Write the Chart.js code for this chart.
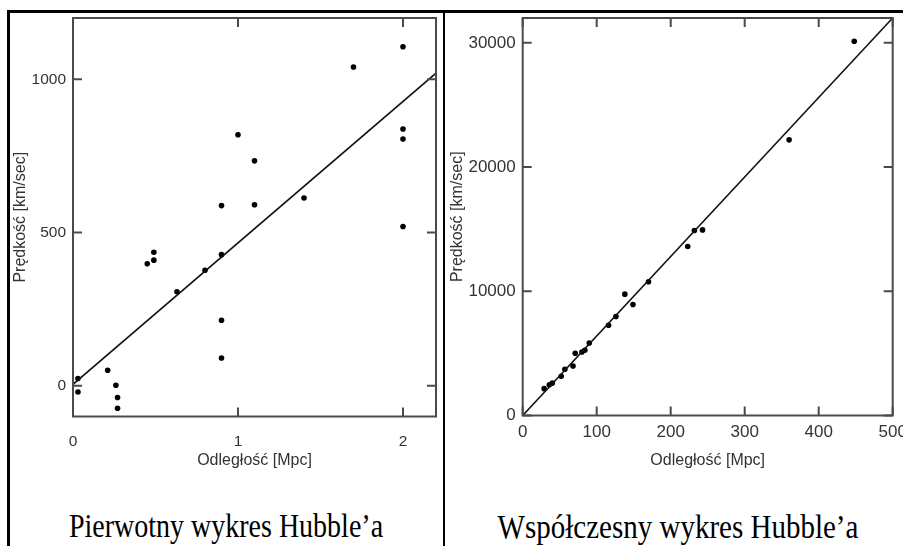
<!DOCTYPE html>
<html><head><meta charset="utf-8">
<script src="https://cdn.jsdelivr.net/npm/chart.js@4"></script>
<style>
html,body{margin:0;padding:0;background:#fff;overflow:hidden;width:903px;height:546px;}
.box{position:absolute;}
.rule{position:absolute;background:#000;}
.cap{position:absolute;top:514px;font-family:"Liberation Serif","Times New Roman",serif;font-size:28px;line-height:28px;color:#000;white-space:nowrap;transform:translateX(-50%) scaleY(1.18);transform-origin:50% 23.5px;}
</style>
</head><body>
<div class="rule" style="left:8px;top:10px;width:895px;height:3px"></div>
<div class="rule" style="left:7px;top:10px;width:3px;height:536px"></div>
<div class="rule" style="left:443px;top:10px;width:2px;height:536px"></div>
<div class="box" style="left:0;top:0;width:443px;height:480px"><canvas id="c1"></canvas></div>
<div class="box" style="left:444px;top:0;width:476px;height:480px"><canvas id="c2"></canvas></div>
<div class="cap" style="left:226px">Pierwotny wykres Hubble’a</div>
<div class="cap" style="left:678px;font-size:29px">Współczesny wykres Hubble’a</div>
<script>
// Original Hubble (1929) diagram
const origDist = [0.03, 0.03, 0.21, 0.26, 0.27, 0.27, 0.45, 0.49, 0.49, 0.63, 0.80, 0.90, 0.90, 0.90, 0.90, 1.00, 1.10, 1.10, 1.40, 1.70, 2.00, 2.00, 2.00, 2.00];
const origVel  = [24, -20, 51, 2, -38, -73, 398, 436, 410, 307, 377, 588, 428, 214, 91, 819, 734, 591, 613, 1040, 1106, 838, 805, 520];
const origFitDist = [0, 2.2];
const origFitVel  = [5, 1020];
const origXTicks = [0, 1, 2];
const origYTicks = [0, 500, 1000];

// Modern Hubble diagram
const modDist = [29, 36, 40, 52, 57, 68, 71, 80, 84, 90, 116, 126, 138, 149, 170, 223, 232, 243, 360, 448];
const modVel  = [2160, 2480, 2610, 3150, 3720, 3990, 5010, 5110, 5250, 5840, 7270, 7970, 9770, 8940, 10770, 13600, 14890, 14940, 22190, 30130];
const modFitDist = [0, 500];
const modFitVel  = [0, 32000];
const modXTicks = [0, 100, 200, 300, 400, 500];
const modYTicks = [0, 10000, 20000, 30000];

const xTitle = 'Odległość [Mpc]';
const yTitle = 'Prędkość [km/sec]';

const frameTicks = {
  id: 'frameTicks',
  afterDatasetsDraw(chart, args, opts) {
    const {ctx, chartArea: a, scales: {x, y}} = chart;
    ctx.save();
    ctx.strokeStyle = '#4a4a4a';
    ctx.lineWidth = 2;
    ctx.beginPath();
    const L = 9;
    x.ticks.forEach(t => {
      const p = x.getPixelForValue(t.value);
      ctx.moveTo(p, a.bottom); ctx.lineTo(p, a.bottom - L);
      ctx.moveTo(p, a.top); ctx.lineTo(p, a.top + L);
    });
    y.ticks.forEach(t => {
      const p = y.getPixelForValue(t.value);
      ctx.moveTo(a.left, p); ctx.lineTo(a.left + L, p);
      ctx.moveTo(a.right, p); ctx.lineTo(a.right - L, p);
    });
    ctx.stroke();
    ctx.strokeRect(a.left, a.top, a.right - a.left, a.bottom - a.top);
    ctx.restore();
  }
};

function pts(xs, ys) { return xs.map((v, i) => ({x: v, y: ys[i]})); }

function makeChart(id, o) {
  return new Chart(document.getElementById(id), {
    type: 'scatter',
    data: {
      datasets: [
        {data: pts(o.fx, o.fy), showLine: true, borderColor: '#111', borderWidth: 1.6, pointRadius: 0, fill: false},
        {data: pts(o.dx, o.dy), backgroundColor: '#000', borderWidth: 0, pointRadius: 2.8}
      ]
    },
    options: {
      responsive: true, maintainAspectRatio: false, animation: false,
      layout: {padding: {left: 0, right: o.padRight, top: 18, bottom: 0}},
      plugins: {legend: {display: false}, tooltip: {enabled: false}},
      scales: {
        x: {
          type: 'linear', min: o.xmin, max: o.xmax,
          afterBuildTicks: s => { s.ticks = o.xticks.map(v => ({value: v})); },
          afterFit: s => { s.height = o.xh; },
          grid: {display: false, drawTicks: false}, border: {display: false},
          ticks: {padding: o.xpad, color: '#333', font: {family: 'Liberation Sans', size: o.tickSize}, maxRotation: 0, autoSkip: false, callback: v => String(v)},
          title: {display: true, text: xTitle, color: '#333', font: {family: 'Liberation Sans', size: 16}, padding: {top: 0, bottom: 10}}
        },
        y: {
          type: 'linear', min: o.ymin, max: o.ymax,
          afterBuildTicks: s => { s.ticks = o.yticks.map(v => ({value: v})); },
          afterFit: s => { s.width = o.yw; },
          grid: {display: false, drawTicks: false}, border: {display: false},
          ticks: {padding: 7, color: '#333', font: {family: 'Liberation Sans', size: o.tickSize}, autoSkip: false, callback: v => String(v)},
          title: {display: true, text: yTitle, color: '#333', font: {family: 'Liberation Sans', size: 16}, padding: {top: o.ytp, bottom: 0}}
        }
      }
    },
    plugins: [frameTicks]
  });
}

makeChart('c1', {
  dx: origDist, dy: origVel, fx: origFitDist, fy: origFitVel,
  xmin: 0, xmax: 2.2, ymin: -100, ymax: 1200,
  xticks: origXTicks, yticks: origYTicks,
  padRight: 7, yw: 73, xh: 63.5, xpad: 16, ytp: 11, tickSize: 15.5
});
makeChart('c2', {
  dx: modDist, dy: modVel, fx: modFitDist, fy: modFitVel,
  xmin: 0, xmax: 500, ymin: 0, ymax: 32000,
  xticks: modXTicks, yticks: modYTicks,
  padRight: 27.3, yw: 78.7, xh: 64.5, xpad: 7, ytp: 4, tickSize: 17
});
</script>
</body></html>
